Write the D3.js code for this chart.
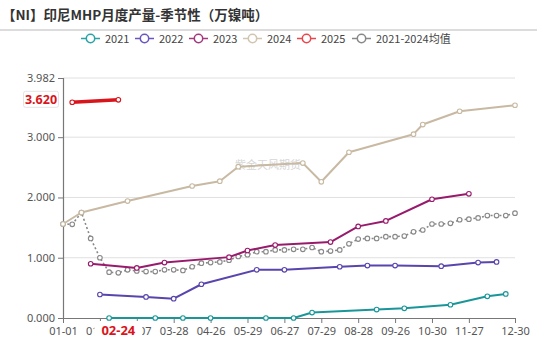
<!DOCTYPE html>
<html><head><meta charset="utf-8">
<script src="https://cdn.jsdelivr.net/npm/d3@7"></script>
<style>
html,body{margin:0;padding:0;background:#fff;}
svg{display:block;font-family:"Noto Sans CJK SC","Noto Sans",sans-serif;}
</style></head>
<body><svg id="c" width="550" height="344"></svg>
<script>
const title = "【NI】印尼MHP月度产量-季节性（万镍吨）";
const categories = ["01-01","01-08","01-15","01-22","01-31","02-07","02-24","02-28","03-07","03-14",
  "03-21","03-24","03-28","04-07","04-12","04-19","04-26","05-06","05-13","05-20",
  "05-29","06-06","06-13","06-20","06-27","07-05","07-12","07-20","07-29","08-06",
  "08-13","08-20","08-28","09-05","09-12","09-19","09-26","10-09","10-16","10-23",
  "10-30","11-06","11-13","11-20","11-27","12-04","12-11","12-18","12-25","12-30"];
const xTickLabels = ["01-01","01-31","03-07","03-28","04-26","05-29","06-27","07-29","08-28","09-26","10-30","11-27","12-30"];
const yTickValues = [0, 1, 2, 3, 3.982];
const yMax = 3.982;

const s2021 = [["02-07",0],["03-21",0],["04-07",0],["04-26",0],["06-13",0],["07-05",0],["07-20",0.09],
  ["09-12",0.14],["10-09",0.16],["11-13",0.22],["12-11",0.36],["12-25",0.40]];
const s2022 = [["01-31",0.39],["03-14",0.35],["03-28",0.32],["04-19",0.56],["06-06",0.80],["06-27",0.80],
  ["08-13",0.85],["09-05",0.87],["09-26",0.87],["11-06",0.86],["12-04",0.92],["12-18",0.93]];
const s2023 = [["01-22",0.90],["03-07",0.83],["03-24",0.92],["05-13",1.01],["05-29",1.12],["06-20",1.21],
  ["08-06",1.26],["08-28",1.52],["09-19",1.61],["10-30",1.97],["11-27",2.06]];
const s2024 = [["01-01",1.56],["01-15",1.75],["02-28",1.94],["04-12",2.19],["05-06",2.27],["05-20",2.51],
  ["07-12",2.57],["07-29",2.26],["08-20",2.75],["10-16",3.05],["10-23",3.21],["11-20",3.43],["12-30",3.53]];
const s2025 = [["01-08",3.58],["02-24",3.62]];
const avgValues = [1.56,1.555,1.75,1.32,1.00,0.76,0.75,0.80,0.78,0.77,
  0.77,0.80,0.80,0.79,0.85,0.91,0.92,0.93,0.96,1.02,
  1.05,1.10,1.10,1.13,1.13,1.14,1.14,1.17,1.10,1.11,
  1.13,1.23,1.31,1.32,1.32,1.35,1.35,1.36,1.43,1.46,
  1.56,1.56,1.57,1.63,1.64,1.66,1.70,1.70,1.70,1.74];
const sAvg = categories.map((c,i)=>[c, avgValues[i]]);

const series = [
  {name:"2021", data:s2021, color:"#1a9699", width:2, legendColor:"#2aa3a6"},
  {name:"2022", data:s2022, color:"#5a44ad", width:2, legendColor:"#6a56bd"},
  {name:"2023", data:s2023, color:"#981a6c", width:2, legendColor:"#a3387c"},
  {name:"2024", data:s2024, color:"#c8b9a2", width:2, legendColor:"#d1c4b0"},
  {name:"2025", data:s2025, color:"#d9141b", width:3.5, legendColor:"#e8474d"},
  {name:"2021-2024均值", data:sAvg, color:"#888888", width:1.6, dash:"2,2.4", legendColor:"#888"}
];

const svg = d3.select("#c");
const x = d3.scalePoint(categories, [63, 515]);
const y = d3.scaleLinear([0, yMax], [318, 78]);

// title
svg.append("text").attr("x",2).attr("y",20).attr("font-size",13.5).attr("font-weight","bold")
  .attr("fill","#333").text(title);
svg.append("line").attr("x1",0).attr("x2",537).attr("y1",30).attr("y2",30)
  .attr("stroke","#dcdcdc").attr("stroke-width",2);

// legend
const legendX = [81,135,189,243,297,352];
series.forEach((s,i)=>{
  const g = svg.append("g").attr("transform",`translate(${legendX[i]},38.5)`);
  g.append("line").attr("x1",0).attr("x2",19).attr("stroke",s.legendColor).attr("stroke-width",1.5);
  g.append("circle").attr("cx",9.5).attr("r",4.2).attr("fill","#fff").attr("stroke",s.legendColor).attr("stroke-width",1.5);
  g.append("text").attr("x",24).attr("y",4).attr("font-size",11).attr("fill","#444").text(s.name);
});

// grid
svg.append("g").selectAll("line").data(yTickValues.filter(v=>v>0)).join("line")
  .attr("x1",63).attr("x2",515).attr("y1",d=>y(d)).attr("y2",d=>y(d))
  .attr("stroke","#e0e0e0").attr("stroke-width",1);

// y axis
const yAxis = svg.append("g").attr("transform","translate(63,0)")
  .call(d3.axisLeft(y).tickValues(yTickValues).tickFormat(d3.format(".3f")).tickSize(5).tickPadding(3));
yAxis.select(".domain").attr("stroke","#777").attr("stroke-width",1.2);
yAxis.selectAll(".tick line").attr("stroke","#777");
yAxis.selectAll("text").attr("font-size",11).attr("fill","#555").attr("font-family","'Noto Sans',sans-serif");

// x axis
const xAxis = svg.append("g").attr("transform","translate(0,318)")
  .call(d3.axisBottom(x).tickValues(xTickLabels).tickSize(5).tickPadding(4).tickSizeOuter(0));
xAxis.select(".domain").attr("stroke","#777").attr("stroke-width",1.2);
xAxis.selectAll(".tick line").attr("stroke","#777");
xAxis.selectAll("text").attr("font-size",11).attr("fill","#555").attr("font-family","'Noto Sans',sans-serif");

// watermark
svg.append("text").attr("x",235).attr("y",169).attr("font-size",11).attr("fill","#d6d6d6").text("紫金天风期货");

// lines
const line = d3.line().x(d=>x(d[0])).y(d=>y(d[1]));
const order = [5,3,2,1,0,4];
order.forEach(i=>{
  const s = series[i];
  const g = svg.append("g");
  g.append("path").attr("d",line(s.data)).attr("fill","none").attr("stroke",s.color)
    .attr("stroke-width",s.width).attr("stroke-dasharray",s.dash||null).attr("stroke-linejoin","round");
  g.selectAll("circle").data(s.data).join("circle")
    .attr("cx",d=>x(d[0])).attr("cy",d=>y(d[1])).attr("r",2.3)
    .attr("fill","#fff").attr("stroke",s.color).attr("stroke-width",1.1);
});

// last 2025 value labels
const last = s2025[s2025.length-1];
const ly = y(last[1]);
svg.append("rect").attr("x",23.5).attr("y",ly-8.5).attr("width",35).attr("height",16).attr("rx",2)
  .attr("fill","#fff").attr("stroke","#e4e4e4");
svg.append("text").attr("x",41).attr("y",ly+4.5).attr("text-anchor","middle").attr("font-size",12.5)
  .attr("font-weight","bold").attr("fill","#d9141b").attr("font-family","'Noto Sans',sans-serif").text(last[1].toFixed(3));
const lx = x(last[0]);
svg.append("rect").attr("x",lx-24).attr("y",321).attr("width",48).attr("height",18).attr("fill","#fff");
svg.append("text").attr("x",lx).attr("y",335).attr("text-anchor","middle").attr("font-size",13)
  .attr("font-weight","bold").attr("fill","#d9141b").attr("font-family","'Noto Sans',sans-serif").text(last[0]);
</script></body></html>
